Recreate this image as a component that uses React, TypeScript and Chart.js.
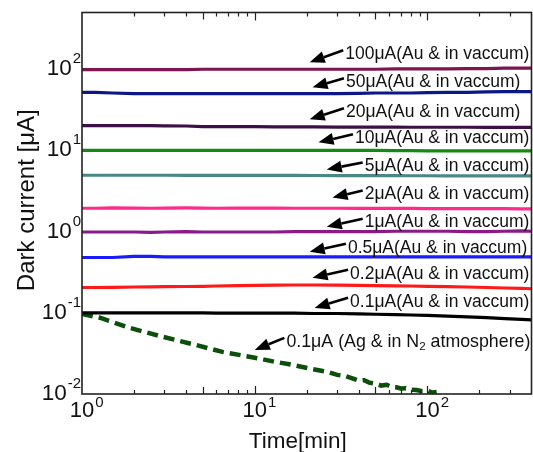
import { useEffect, useRef } from "react";
import { Chart, registerables } from "chart.js";
Chart.register(...registerables);

// ---------- data ----------
const TIME = [1, 1.2, 1.5, 2, 2.5, 3, 4, 5, 6, 8, 10, 13, 17, 22, 30, 40, 50, 65, 80, 100, 130, 170, 220, 280, 350, 400];
const I_100 = [99, 99, 99, 99, 99, 99, 99, 100, 100, 100, 100, 100, 100, 100, 100, 100, 100, 101, 101, 101, 101, 102, 102, 103, 103, 103];
const I_50 = [52, 52, 51, 50, 50, 50, 50, 50, 50, 50, 50, 50, 50, 50, 50, 50.5, 51, 51, 51, 51.5, 52, 52, 52.5, 53, 53, 53];
const I_20 = [20.2, 20.2, 20.2, 20.2, 20.2, 20.1, 20, 19.6, 19.6, 19.6, 19.6, 19.5, 19.5, 19.5, 19.4, 19.4, 19.4, 19.4, 19.3, 19.3, 19.3, 19.3, 19.2, 19.2, 19.2, 19.2];
const I_10 = [10, 10, 10, 10, 10, 10, 10, 10, 10, 10, 10, 10, 10, 10, 10, 10, 10, 9.95, 9.95, 9.9, 9.9, 9.9, 9.9, 9.9, 9.9, 9.9];
const I_5 = [4.95, 4.95, 4.95, 4.95, 4.95, 4.95, 4.94, 4.94, 4.93, 4.93, 4.92, 4.92, 4.92, 4.91, 4.9, 4.9, 4.9, 4.89, 4.88, 4.88, 4.87, 4.86, 4.86, 4.85, 4.85, 4.85];
const I_2 = [1.94, 1.94, 1.96, 1.95, 1.94, 1.95, 1.96, 1.95, 1.94, 1.95, 1.95, 1.95, 1.94, 1.94, 1.94, 1.93, 1.93, 1.93, 1.93, 1.92, 1.92, 1.92, 1.92, 1.92, 1.91, 1.91];
const I_1 = [0.99, 0.99, 0.99, 0.99, 0.98, 0.99, 1.0, 0.99, 0.99, 0.99, 0.99, 0.99, 1.0, 1.0, 1.0, 1.0, 1.0, 1.01, 1.01, 1.01, 1.01, 1.0, 1.0, 1.01, 1.02, 1.01];
const I_05 = [0.48, 0.48, 0.48, 0.495, 0.495, 0.49, 0.49, 0.49, 0.49, 0.49, 0.49, 0.49, 0.49, 0.49, 0.49, 0.49, 0.49, 0.49, 0.49, 0.49, 0.49, 0.49, 0.49, 0.49, 0.49, 0.49];
const I_02 = [0.205, 0.205, 0.206, 0.208, 0.209, 0.21, 0.211, 0.212, 0.214, 0.216, 0.218, 0.219, 0.22, 0.22, 0.219, 0.218, 0.216, 0.215, 0.214, 0.212, 0.21, 0.208, 0.205, 0.202, 0.2, 0.198];
const I_01 = [0.1, 0.1, 0.1, 0.1, 0.1, 0.1, 0.1, 0.1, 0.099, 0.099, 0.099, 0.099, 0.099, 0.098, 0.098, 0.097, 0.096, 0.095, 0.094, 0.093, 0.091, 0.089, 0.087, 0.085, 0.083, 0.082];

const AG_TIME = [1, 1.27, 1.9, 2.9, 4.6, 6.5, 10, 13, 16.6, 21, 26.5, 30, 33, 36, 40, 43, 46, 50, 54, 58, 62, 66, 70, 75, 80, 86, 92, 100, 106, 113];
const AG_I = [0.097, 0.087, 0.065, 0.051, 0.04, 0.033, 0.028, 0.025, 0.0228, 0.0205, 0.0187, 0.0172, 0.0168, 0.0158, 0.0146, 0.0148, 0.0138, 0.0134, 0.0127, 0.013, 0.0122, 0.0121, 0.0117, 0.0118, 0.0113, 0.0112, 0.0109, 0.011, 0.0104, 0.0106];

const SERIES = [I_100, I_50, I_20, I_10, I_5, I_2, I_1, I_05, I_02, I_01];
const COLORS = ["#7c1550", "#0c1888", "#3d0f46", "#148a14", "#4a8888", "#ff2a8c", "#8a1a8a", "#1a1aff", "#ff1a1a", "#000000"];
const AG_COLOR = "#0b4f0b";

// annotation labels (text right edge x, text centre y, arrow tip x/y, in data units)
const ANN_TEXT = [
  "100μA(Au & in vaccum)", "50μA(Au & in vaccum)", "20μA(Au & in vaccum)", "10μA(Au & in vaccum)",
  "5μA(Au & in vaccum)", "2μA(Au & in vaccum)", "1μA(Au & in vaccum)", "0.5μA(Au & in vaccum)",
  "0.2μA(Au & in vaccum)", "0.1μA(Au & in vaccum)", "0.1μA (Ag & in N|2| atmosphere)",
];
const ANN_TEXT_X = [389, 345, 345, 389, 389, 389, 389, 378, 389, 389, 394];
const ANN_TEXT_Y = [153, 69, 29.5, 14.1, 6.35, 2.86, 1.29, 0.634, 0.303, 0.137, 0.0439];
const ANN_TIP_X = [20.8, 21.6, 20.8, 23.4, 26.1, 28.2, 26.1, 20.8, 21.6, 22.2, 10];
const ANN_TIP_Y = [122, 60, 24.2, 12.6, 5.82, 2.63, 1.15, 0.566, 0.27, 0.115, 0.0349];

const X_DECADES = [0, 1, 2];
const Y_DECADES = [-2, -1, 0, 1, 2];
const X_TITLE = "Time[min]";
const Y_TITLE = "Dark current [μA]";

const FONT = "'Liberation Sans', Arial, sans-serif";

function drawPow(ctx: CanvasRenderingContext2D, exp: string, x: number, y: number, mode: "right" | "center", baseSize: number, expSize: number, rise: number) {
  ctx.font = `${baseSize}px ${FONT}`;
  const wb = ctx.measureText("10").width;
  ctx.font = `${expSize}px ${FONT}`;
  const we = ctx.measureText(exp).width;
  const x0 = mode === "right" ? x - wb - we - 1 : x - wb / 2;
  ctx.textAlign = "left";
  ctx.textBaseline = "alphabetic";
  ctx.font = `${baseSize}px ${FONT}`;
  ctx.fillText("10", x0, y);
  ctx.font = `${expSize}px ${FONT}`;
  ctx.fillText(exp, x0 + wb + 1, y - rise);
}

const overlay = {
  id: "overlay",
  afterDatasetsDraw(chart: any) {
    const { ctx, chartArea: a } = chart;
    const xs = chart.scales.x;
    const ys = chart.scales.y;
    ctx.save();
    ctx.fillStyle = "#111";
    ctx.strokeStyle = "#222";
    // frame
    ctx.lineWidth = 1.6;
    ctx.strokeRect(a.left, a.top, a.right - a.left, a.bottom - a.top);
    // x ticks (bottom & top, inward)
    ctx.lineWidth = 1.2;
    for (const d of X_DECADES) {
      for (let m = 1; m <= 9; m++) {
        const v = m * Math.pow(10, d);
        if (v <= xs.min || v >= xs.max) continue;
        const px = Math.round(xs.getPixelForValue(v)) + 0.5;
        const len = m === 1 ? 8 : m === 5 ? 7 : 4;
        ctx.beginPath();
        ctx.moveTo(px, a.bottom);
        ctx.lineTo(px, a.bottom - len);
        ctx.moveTo(px, a.top);
        ctx.lineTo(px, a.top + len);
        ctx.stroke();
      }
    }
    // tick labels
    ctx.fillStyle = "#111";
    for (const e of Y_DECADES) {
      const py = ys.getPixelForValue(Math.pow(10, e));
      drawPow(ctx, e < 0 ? "-" + Math.abs(e) : String(e), a.left - 1, py + 6, "right", 22.5, 15, 12);
    }
    for (const e of X_DECADES) {
      const px = xs.getPixelForValue(Math.pow(10, e));
      drawPow(ctx, String(e), px, a.bottom + 23, "center", 22, 15, 10);
    }
    // axis titles
    ctx.textAlign = "center";
    ctx.textBaseline = "alphabetic";
    ctx.font = `22.5px ${FONT}`;
    ctx.fillText(X_TITLE, (a.left + a.right) / 2 - 9, a.bottom + 54);
    ctx.save();
    ctx.font = `24px ${FONT}`;
    ctx.translate(a.left - 48, (a.top + a.bottom) / 2 - 3);
    ctx.rotate(-Math.PI / 2);
    ctx.fillText(Y_TITLE, 0, 0);
    ctx.restore();
    // annotations
    for (let i = 0; i < ANN_TEXT.length; i++) {
      const size = i === ANN_TEXT.length - 1 ? 17.8 : 17.5;
      const parts = ANN_TEXT[i].split("|");
      const rx = xs.getPixelForValue(ANN_TEXT_X[i]);
      const cy = ys.getPixelForValue(ANN_TEXT_Y[i]);
      const widths = parts.map((p, k) => {
        ctx.font = `${k % 2 === 1 ? size * 0.65 : size}px ${FONT}`;
        return ctx.measureText(p).width;
      });
      const total = widths.reduce((s, w) => s + w, 0);
      let x = rx - total;
      const left = x;
      ctx.textAlign = "left";
      ctx.textBaseline = "middle";
      ctx.fillStyle = "#111";
      parts.forEach((p, k) => {
        const sub = k % 2 === 1;
        ctx.font = `${sub ? size * 0.65 : size}px ${FONT}`;
        ctx.fillText(p, x, sub ? cy + 5 : cy);
        x += widths[k];
      });
      // arrow
      const tx0 = left - 2;
      const ty0 = cy - 4;
      const tipx = xs.getPixelForValue(ANN_TIP_X[i]);
      const tipy = ys.getPixelForValue(ANN_TIP_Y[i]);
      const ang = Math.atan2(tipy - ty0, tipx - tx0);
      const hl = 15;
      const hw = 6;
      const bx = tipx - hl * Math.cos(ang);
      const by = tipy - hl * Math.sin(ang);
      ctx.strokeStyle = "#000";
      ctx.fillStyle = "#000";
      ctx.lineWidth = 2.6;
      ctx.beginPath();
      ctx.moveTo(tx0, ty0);
      ctx.lineTo(bx, by);
      ctx.stroke();
      ctx.beginPath();
      ctx.moveTo(tipx, tipy);
      ctx.lineTo(bx + hw * Math.sin(ang), by - hw * Math.cos(ang));
      ctx.lineTo(bx - hw * Math.sin(ang), by + hw * Math.cos(ang));
      ctx.closePath();
      ctx.fill();
    }
    ctx.restore();
  },
};

export default function App() {
  const ref = useRef<HTMLCanvasElement | null>(null);
  useEffect(() => {
    if (!ref.current) return;
    const datasets: any[] = SERIES.map((vals, i) => ({
      data: TIME.map((t, k) => ({ x: t, y: vals[k] })),
      borderColor: COLORS[i],
      borderWidth: 3.2,
      pointRadius: 0,
      tension: 0,
    }));
    datasets.push({
      data: AG_TIME.map((t, k) => ({ x: t, y: AG_I[k] })),
      borderColor: AG_COLOR,
      borderWidth: 4.5,
      borderDash: [11, 6],
      pointRadius: 0,
      tension: 0,
    });
    const chart = new Chart(ref.current, {
      type: "line",
      data: { datasets },
      options: {
        animation: false,
        responsive: false,
        maintainAspectRatio: false,
        layout: { padding: { left: 82, top: 12.5, right: 1.5, bottom: 58 } },
        plugins: { legend: { display: false }, tooltip: { enabled: false } },
        scales: {
          x: {
            type: "logarithmic",
            min: 1,
            max: 400,
            ticks: { display: false },
            grid: { display: false, drawTicks: false },
            border: { display: false },
          },
          y: {
            type: "logarithmic",
            min: 0.01,
            max: 500,
            ticks: { display: false },
            grid: { display: false, drawTicks: false },
            border: { display: false },
          },
        },
      },
      plugins: [overlay],
    });
    return () => chart.destroy();
  }, []);
  return (
    <div style={{ position: "fixed", left: 0, top: 0, width: 533, height: 452, background: "#fff" }}>
      <canvas ref={ref} width={533} height={452} style={{ width: 533, height: 452, display: "block" }} />
    </div>
  );
}
